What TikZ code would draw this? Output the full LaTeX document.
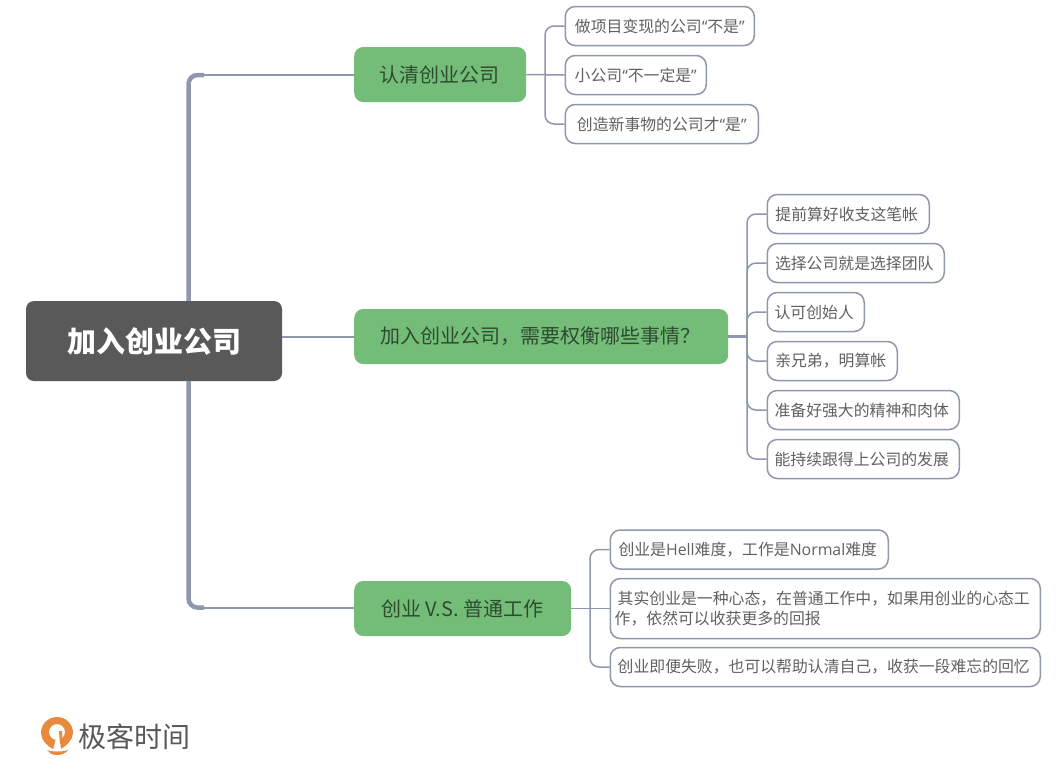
\documentclass[tikz,border=0pt]{standalone}
\usepackage{fontspec}
\setmainfont{Noto Sans CJK SC}
\newfontfamily\latinfont{Open Sans}
\newcommand{\qo}{{\latinfont “}}
\newcommand{\qc}{{\latinfont ”}}
\definecolor{linegray}{HTML}{8E97AB}
\definecolor{topicgreen}{HTML}{74BD79}
\definecolor{rootgray}{HTML}{595959}
\definecolor{leaftext}{HTML}{616161}
\definecolor{logoorange}{HTML}{E88A3C}
\tikzset{
  rootnode/.style={fill=rootgray, rounded corners=8pt, minimum width=256pt, minimum height=80pt,
    text=white, font=\fontsize{29pt}{34pt}\selectfont\bfseries, inner sep=0pt},
  topicnode/.style={fill=topicgreen, rounded corners=9pt, minimum height=55pt, anchor=west,
    text=black!60!topicgreen, font=\fontsize{20pt}{24pt}\selectfont, inner sep=0pt},
  leafnode/.style={draw=linegray, line width=1.5pt, fill=white, rounded corners=10pt, minimum height=39pt,
    anchor=west, align=left, text=leaftext, font=\fontsize{15.85pt}{20.5pt}\selectfont, inner sep=0pt},
  leafshift/.style={leafnode, execute at begin node={\hspace*{-3pt}}},
  branchline/.style={draw=linegray, line width=1.5pt, rounded corners=9pt},
  rootline/.style={draw=linegray, line width=2pt},
  trunkline/.style={draw=linegray, line width=4.5pt, rounded corners=9pt},
}
\begin{document}
\begin{tikzpicture}[x=1pt, y=-1pt]
  \useasboundingbox (0,0) rectangle (1056,782);

  \node [rootnode] (root) at (154,341) {\raisebox{-1.5pt}{加入创业公司}};

  \node [topicnode, minimum width=172pt] (clear) at (354,74.5) {\hspace*{-1pt}认清创业公司};
  \node [topicnode, minimum width=374pt] (weigh) at (354,336.5) {\hspace*{-2pt}加入创业公司，需要权衡哪些事情？};
  \node [topicnode, minimum width=217pt] (versus) at (354,608.5) {\hspace*{-1pt}创业 V.S. 普通工作};

  \node [leafnode, minimum width=189pt] (clearA) at (564.5,26) {做项目变现的公司\qo 不是\qc};
  \node [leafnode, minimum width=141pt] (clearB) at (564.5,75) {小公司\qo 不一定是\qc};
  \node [leafnode, minimum width=193pt] (clearC) at (564.5,124) {创造新事物的公司才\qo 是\qc};

  \node [leafshift, minimum width=162pt] (weighA) at (766.5,214) {提前算好收支这笔帐};
  \node [leafshift, minimum width=177pt] (weighB) at (766.5,263) {选择公司就是选择团队};
  \node [leafshift, minimum width=97pt] (weighC) at (766.5,312) {认可创始人};
  \node [leafshift, minimum width=130pt] (weighD) at (766.5,361) {亲兄弟，明算帐};
  \node [leafshift, minimum width=192pt] (weighE) at (766.5,410) {准备好强大的精神和肉体};
  \node [leafshift, minimum width=192pt] (weighF) at (766.5,459) {能持续跟得上公司的发展};

  \node [leafshift, minimum width=278pt] (versusA) at (609.5,549.5) {创业是{\latinfont Hell}难度，工作是{\latinfont Normal}难度};
  \node [leafshift, minimum width=430pt, minimum height=60pt] (versusB) at (609.5,608.5)
    {其实创业是一种心态，在普通工作中，如果用创业的心态工\\\hspace*{-3pt}作，依然可以收获更多的回报};
  \node [leafshift, minimum width=430pt] (versusC) at (609.5,667) {创业即便失败，也可以帮助认清自己，收获一段难忘的回忆};

  \coordinate (trunk) at (188.5,341);
  \coordinate (trunkTop) at (204,75);
  \coordinate (trunkBottom) at (204,607.5);
  \coordinate (busClear) at (545,74.5);
  \coordinate (busWeigh) at (747,336.5);
  \coordinate (busVersus) at (590,608.5);

  \draw [trunkline] (root.north -| trunk) |- (trunkTop);
  \draw [trunkline] (root.south -| trunk) |- (trunkBottom);
  \draw [rootline] (trunkTop) to (clear.west |- trunkTop);
  \draw [rootline] (trunkBottom) to (versus.west |- trunkBottom);
  \draw [rootline] (root.east |- weigh.west) to (weigh.west);

  \draw [branchline] (clear.east) to (clearB.west);
  \draw [branchline] (busClear) |- (clearA.west);
  \draw [branchline] (busClear) |- (clearC.west);

  \draw [branchline, line width=2.5pt] (weigh.east) to (busWeigh);
  \draw [branchline] (busWeigh) |- (weighA.west);
  \draw [branchline] (busWeigh) |- (weighB.west);
  \draw [branchline] (busWeigh) |- (weighC.west);
  \draw [branchline] (busWeigh) |- (weighD.west);
  \draw [branchline] (busWeigh) |- (weighE.west);
  \draw [branchline] (busWeigh) |- (weighF.west);

  \draw [branchline] (versus.east) to (versusB.west);
  \draw [branchline] (busVersus) |- (versusA.west);
  \draw [branchline] (busVersus) |- (versusC.west);

  \fill [logoorange] (57,755) .. controls (52,755) and (49,753) .. (47,750)
    .. controls (52,752) and (62,752) .. (68,750) .. controls (66,753) and (62,755) .. (57,755);
  \fill [logoorange, even odd rule] (57,717) .. controls (66,717) and (73,724) .. (73,733)
    .. controls (73,740) and (66,746) .. (61,749) to (53,749)
    .. controls (47,746) and (41,740) .. (41,733) .. controls (41,724) and (48,717) .. (57,717)
    (57,732) circle [radius=8];
  \fill [white] (56,738) to (60,738) to (61,750) to (53,750) -- cycle;
  \fill [logoorange] (59,731) to (62,731) to (63,744) to (60,744) -- cycle;
  \node [anchor=west, text=rootgray, inner sep=0pt, font=\fontsize{28pt}{32pt}\selectfont] (logotext) at (78,737) {极客时间};
\end{tikzpicture}
\end{document}
